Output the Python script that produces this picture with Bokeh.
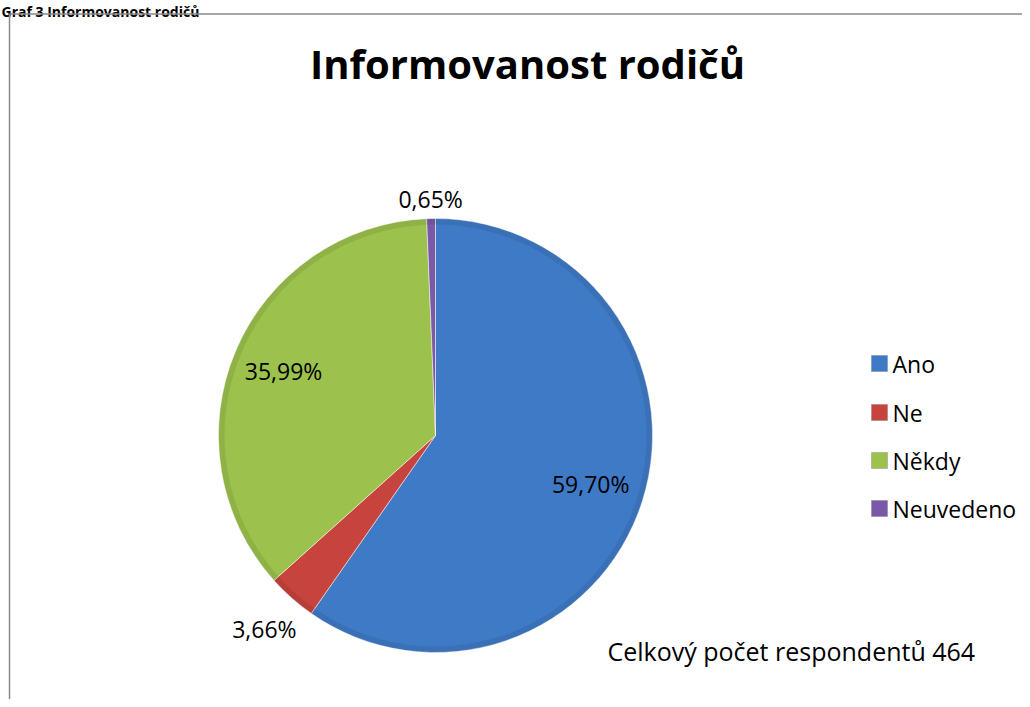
import math
from bokeh.plotting import figure
from bokeh.models import Range1d, ColumnDataSource
from bokeh.core.properties import value
from bokeh.embed import file_html
from bokeh.resources import INLINE

# ---- data ----
categories = ["Ano", "Ne", "Někdy", "Neuvedeno"]
percent = [59.70, 3.66, 35.99, 0.65]
labels = ["59,70%", "3,66%", "35,99%", "0,65%"]
title = "Informovanost rodičů"
caption = "Graf 3 Informovanost rodičů"
note = "Celkový počet respondentů 464"

# ---- style ----
colors = ["#3f7ac6", "#c7433d", "#9cc14c", "#7a5aa8"]
label_radius = [0.75, 1.19, 0.76, 1.09]
FONT = "Open Sans"

W, H = 1022, 699
p = figure(width=W, height=H, output_backend="svg", toolbar_location=None,
           x_range=Range1d(0, W), y_range=Range1d(0, H), min_border=0)
p.axis.visible = False
p.grid.visible = False
p.outline_line_color = None
p.background_fill_color = "white"

# document caption above the chart frame
p.text(x=[1], y=[688], text=[caption], text_align="left",
       text_baseline="alphabetic", text_font=value(FONT),
       text_font_style="bold", text_font_size="14px", text_color="#000000")

# frame (top and left edges visible)
p.segment(x0=[9, 9], y0=[0, 685.5], x1=[9, W], y1=[685.5, 685.5],
          line_color="#8a8a8a", line_width=1.5)

cx, cy, r = 435, 264, 217
total = sum(percent)
starts, ends, mids = [], [], []
cum = 0.0
for v in percent:
    a0 = math.pi / 2 - 2 * math.pi * cum / total
    cum += v
    a1 = math.pi / 2 - 2 * math.pi * cum / total
    starts.append(a0)
    ends.append(a1)
    mids.append((a0 + a1) / 2)

src = ColumnDataSource(dict(start=starts, end=ends, color=colors))
p.wedge(x=cx, y=cy, radius=r, start_angle="start", end_angle="end",
        direction="clock", fill_color="color", line_color="white",
        line_alpha=0.5, line_width=1, source=src)
# subtle bevel at the rim
p.annular_wedge(x=cx, y=cy, inner_radius=r - 6, outer_radius=r,
                start_angle="start", end_angle="end", direction="clock",
                fill_color="black", fill_alpha=0.08, line_color=None, source=src)

lx = [cx + f * r * math.cos(m) for f, m in zip(label_radius, mids)]
ly = [cy + f * r * math.sin(m) for f, m in zip(label_radius, mids)]
p.text(x=lx, y=ly, text=labels, text_align="center", text_baseline="middle",
       text_font=value(FONT), text_font_size="23px", text_color="#000000")

# title
p.text(x=[527], y=[636], text=[title], text_align="center",
       text_baseline="alphabetic", text_font=value(FONT),
       text_font_style="bold", text_font_size="40px", text_color="#000000")

# legend
ly0 = [336, 287, 239, 191]
p.rect(x=[879] * 4, y=ly0, width=16, height=16, fill_color=colors,
       line_color="#555555", line_alpha=0.5, line_width=0.5)
p.text(x=[892] * 4, y=ly0, text=categories, text_align="left",
       text_baseline="middle", text_font=value(FONT),
       text_font_size="23px", text_color="#000000")

# note
p.text(x=[607], y=[49], text=[note], text_align="left",
       text_baseline="middle", text_font=value(FONT),
       text_font_size="25px", text_color="#000000")

open("out.html", "w").write(file_html(p, INLINE))
